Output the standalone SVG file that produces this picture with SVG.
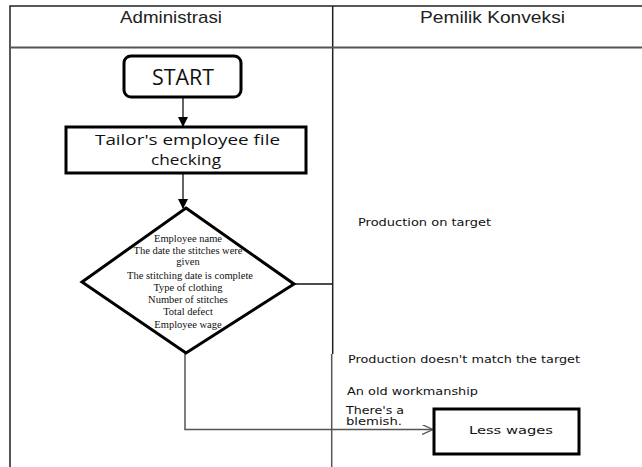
<svg xmlns="http://www.w3.org/2000/svg" width="642" height="467" viewBox="0 0 642 467">
<style>
.tbl{stroke:#222;stroke-width:1.5;fill:none}
.tbl2{stroke:#555;stroke-width:1.5;fill:none}
.hdr{font-family:"Liberation Sans",Arial,sans-serif;font-size:17px;fill:#222}
.node{fill:#fff;stroke:#000;stroke-width:3}
.cal{font-family:"Open Sans","Liberation Sans",sans-serif;fill:#111}
.dia{font-family:"Liberation Serif","Times New Roman",serif;font-size:10.5px;fill:#111;text-anchor:middle}
.lbl{font-family:"DejaVu Sans",Verdana,sans-serif;font-size:10.5px;fill:#111}
.conn{stroke:#111;stroke-width:1.3;fill:none}
.conn2{stroke:#555;stroke-width:1.5;fill:none}
</style>
<defs>
<marker id="arr" markerWidth="10" markerHeight="10" refX="9" refY="5" orient="auto" markerUnits="userSpaceOnUse">
<path d="M0,0 L10,5 L0,10 z" fill="#000"/>
</marker>
<marker id="open" markerWidth="12" markerHeight="10" refX="11" refY="5" orient="auto" markerUnits="userSpaceOnUse">
<path d="M0,0 L11,5 L0,10" fill="none" stroke="#555" stroke-width="1.3"/>
</marker>
</defs>
<rect width="642" height="467" fill="#fff"/>
<g id="table">
<path class="tbl" d="M10,467 V6 H642"/>
<path class="tbl" d="M332.7,6 V354"/>
<path class="tbl2" d="M331.7,354 V467"/>
<path class="tbl2" d="M10,354 V467"/>
<path d="M10,47.5 H642" stroke="#555" stroke-width="2"/>
<text class="hdr" x="120" y="23" textLength="102" lengthAdjust="spacingAndGlyphs">Administrasi</text>
<text class="hdr" x="420" y="23" textLength="145" lengthAdjust="spacingAndGlyphs">Pemilik Konveksi</text>
</g>
<g id="connectors">
<line class="conn" x1="183" y1="97" x2="183" y2="126" marker-end="url(#arr)"/>
<line class="conn" x1="183" y1="174" x2="183" y2="208" marker-end="url(#arr)"/>
<line class="conn" x1="294" y1="284" x2="332" y2="284"/>
<path class="conn2" d="M185,353 V429.5 H433" marker-end="url(#open)"/>
</g>
<g id="start">
<rect class="node" x="124" y="56" width="117" height="41" rx="7"/>
<text class="cal" x="152" y="85" font-size="22" textLength="62" lengthAdjust="spacingAndGlyphs">START</text>
</g>
<g id="check">
<rect class="node" x="66" y="127" width="240" height="46"/>
<text class="cal" x="95" y="145" font-size="15" textLength="185" lengthAdjust="spacingAndGlyphs">Tailor's employee file</text>
<text class="cal" x="151" y="165" font-size="15" textLength="70" lengthAdjust="spacingAndGlyphs">checking</text>
</g>
<g id="decision">
<polygon class="node" points="186,208 294,284 186,353 82,282"/>
<text class="dia" x="188" y="242">Employee name</text>
<text class="dia" x="188" y="254">The date the stitches were</text>
<text class="dia" x="188" y="265">given</text>
<text class="dia" x="190" y="279">The stitching date is complete</text>
<text class="dia" x="188" y="291">Type of clothing</text>
<text class="dia" x="188" y="303">Number of stitches</text>
<text class="dia" x="188" y="315">Total defect</text>
<text class="dia" x="188" y="328">Employee wage</text>
</g>
<g id="labels">
<text class="lbl" x="358" y="226" textLength="133" lengthAdjust="spacingAndGlyphs">Production on target</text>
<text class="lbl" x="348" y="363" textLength="232" lengthAdjust="spacingAndGlyphs">Production doesn't match the target</text>
<text class="lbl" x="347" y="395" textLength="131" lengthAdjust="spacingAndGlyphs">An old workmanship</text>
<text class="lbl" x="346" y="414" textLength="58" lengthAdjust="spacingAndGlyphs">There's a</text>
<text class="lbl" x="346" y="425" textLength="56" lengthAdjust="spacingAndGlyphs">blemish.</text>
</g>
<g id="less">
<rect class="node" x="434" y="409" width="145" height="45"/>
<text class="lbl" x="469" y="434" font-size="12.5" textLength="84" lengthAdjust="spacingAndGlyphs">Less wages</text>
</g>
</svg>
